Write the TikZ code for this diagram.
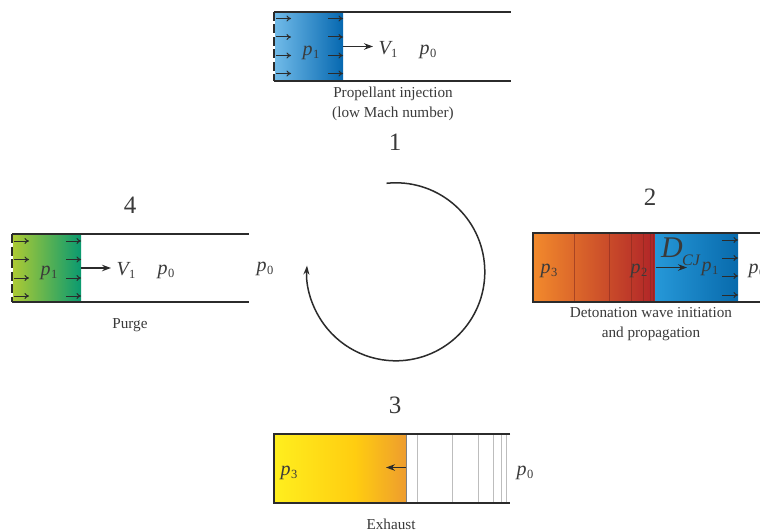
\documentclass[tikz,border=0pt]{standalone}
\usepackage{fontspec}
\setmainfont{Liberation Serif}
\usetikzlibrary{arrows.meta}
\definecolor{ink}{HTML}{2B2B2B}
\definecolor{txt}{HTML}{3A3A3A}
\definecolor{wave}{HTML}{BDBDBD}
\definecolor{blueL}{RGB}{112,186,232}
\definecolor{blueR}{RGB}{6,104,176}
\definecolor{orangeL}{RGB}{242,138,44}
\definecolor{redR}{RGB}{176,36,40}
\definecolor{midblueL}{RGB}{38,152,216}
\definecolor{midblueR}{RGB}{8,106,172}
\definecolor{yelL}{RGB}{255,238,30}
\definecolor{yelM}{RGB}{255,205,16}
\definecolor{yelR}{RGB}{238,156,46}
\definecolor{grnL}{RGB}{172,202,52}
\definecolor{grnR}{RGB}{10,154,112}
\definecolor{redline}{RGB}{130,40,30}
\newcommand{\pq}[2]{{\fontsize{20}{22}\selectfont\itshape #1}\kern.5pt\raisebox{-3pt}{\fontsize{12.5}{14}\selectfont #2}}
\newcommand{\inletarrows}[2]{%
  \foreach \yy/\nn in {#2+6.5/a,#2+25/b,#2+43.5/c,#2+61.5/d}{
    \coordinate (l\nn a) at (#1+1.5,\yy);
    \coordinate (l\nn b) at (#1+16.5,\yy);
    \coordinate (r\nn a) at (#1+53.5,\yy);
    \coordinate (r\nn b) at (#1+68.5,\yy);
    \draw[smallarrow] (l\nn a) -- (l\nn b);
    \draw[smallarrow] (r\nn a) -- (r\nn b);
  }}
\tikzset{
  wall/.style={draw=ink,line width=1.4pt},
  inlet/.style={draw=ink,line width=1.4pt,dash pattern=on 9pt off 3.5pt},
  smallarrow/.style={draw=ink,line width=1pt,-{To[length=4.5pt,width=6pt]}},
  bigarrow/.style={draw=ink,line width=1.1pt,-{Stealth[length=9pt,width=6.5pt]}},
  cycle arrow/.style={draw=ink,line width=1.5pt,-{Stealth[length=9pt,width=6pt]}},
  captext/.style={text=txt,font=\fontsize{15.2}{17}\selectfont,inner sep=0pt,align=center},
  num/.style={text=txt,font=\fontsize{25}{27}\selectfont,inner sep=0pt},
  lab/.style={text=txt,inner sep=0pt},
  thinwave/.style={draw=wave,line width=1pt},
  redwave/.style={draw=redline,opacity=.55,line width=.7pt}
}
\begin{document}
\begin{tikzpicture}[x=1pt,y=-1pt]
\clip (0,0) rectangle (760,532);
\fill[white] (0,0) rectangle (760,532);

% Panel 1
\shade[left color=blueL,right color=blueR] (275,12) rectangle (343,81);
\coordinate (a1) at (274,12); \coordinate (a2) at (511,12);
\coordinate (a3) at (274,81); \coordinate (a4) at (511,81);
\draw[wall] (a1) -- (a2); \draw[wall] (a3) -- (a4);
\draw[inlet] (a1) -- (a3);
\inletarrows{274.5}{12}
\node[lab] (p1a) at (311,53) {\pq{p}{1}};
\node[lab] (v1a) at (388,49) {\pq{V}{1}};
\node[lab] (p0a) at (428,52) {\pq{p}{0}};
\coordinate (fa) at (343,46.5); \coordinate (fae) at (373,46.5);
\draw[bigarrow] (fa) -- (fae);
\node[captext] (capa) at (393,104) {Propellant injection\\[2.5pt](low Mach number)};
\node[num] (n1) at (395,142) {1};

% Panel 2
\shade[left color=orangeL,right color=redR] (533,233) rectangle (655,302);
\shade[left color=midblueL,right color=midblueR] (655,233) rectangle (738,302);
\foreach \xx in {574,609,631.5,643.5,650,653}{\draw[redwave] (\xx,233) -- (\xx,302);}
\coordinate (b1) at (533,233); \coordinate (b2) at (760,233);
\coordinate (b3) at (533,302); \coordinate (b4) at (760,302);
\draw[wall] (b2) -- (b1) -- (b3) -- (b4);
\foreach \yy/\nn in {240/a,258/b,276/c,295/d}{
  \coordinate (q\nn a) at (722,\yy); \coordinate (q\nn b) at (738,\yy);
  \draw[smallarrow] (q\nn a) -- (q\nn b);}
\node[lab] (p3b) at (549,271) {\pq{p}{3}};
\node[lab] (p2b) at (639,271) {\pq{p}{2}};
\node[lab,font=\fontsize{30}{32}\selectfont\itshape] (dcj) at (672,248) {D};
\node[lab,font=\fontsize{16}{18}\selectfont\itshape] (cj) at (691,260) {CJ};
\node[lab] (p1b) at (710,269) {\pq{p}{1}};
\node[lab] (p0b) at (757,271) {\pq{p}{0}};
\coordinate (fb) at (656,267.5); \coordinate (fbe) at (687,267.5);
\draw[bigarrow] (fb) -- (fbe);
\node[captext] (capb) at (651,324) {Detonation wave initiation\\[2.5pt]and propagation};
\node[num] (n2) at (650,197) {2};

% Panel 3
\shade[left color=yelL,right color=yelM] (275,434) rectangle (355,503);
\shade[left color=yelM,right color=yelR] (355,434) rectangle (406.5,503);
\foreach \xx in {417.5,452,478.5,493.5,501,506}{\draw[thinwave] (\xx,434) -- (\xx,503);}
\draw[draw=gray,line width=.6pt] (406.5,434) -- (406.5,503);
\coordinate (c1) at (510,434); \coordinate (c2) at (274,434);
\coordinate (c3) at (274,503); \coordinate (c4) at (510,503);
\draw[wall] (c1) -- (c2) -- (c3) -- (c4);
\coordinate (fc) at (406,467.5); \coordinate (fce) at (386,467.5);
\draw[bigarrow] (fc) -- (fce);
\node[lab] (p3c) at (289,473) {\pq{p}{3}};
\node[lab] (p0c) at (525,473) {\pq{p}{0}};
\node[captext] (capc) at (391,524) {Exhaust};
\node[num] (n3) at (395,405) {3};

% Panel 4
\shade[left color=grnL,right color=grnR] (13,234) rectangle (81,302);
\coordinate (d1) at (12,234); \coordinate (d2) at (249,234);
\coordinate (d3) at (12,302); \coordinate (d4) at (249,302);
\draw[wall] (d1) -- (d2); \draw[wall] (d3) -- (d4);
\draw[inlet] (d1) -- (d3);
\inletarrows{12.5}{234.5}
\node[lab] (p1d) at (49,273) {\pq{p}{1}};
\node[lab] (v1d) at (126,270) {\pq{V}{1}};
\node[lab] (p0d) at (166,272) {\pq{p}{0}};
\node[lab] (p0e) at (265,269) {\pq{p}{0}};
\coordinate (fd) at (81,268); \coordinate (fde) at (111,268);
\draw[bigarrow] (fd) -- (fde);
\node[captext] (capd) at (130,325) {Purge};
\node[num] (n4) at (130,205) {4};

% Cycle arrow
\coordinate (cyc) at (386.5,183.3);
\draw[cycle arrow] (cyc) arc[start angle=-96,end angle=184,radius=89];
\end{tikzpicture}
\end{document}
